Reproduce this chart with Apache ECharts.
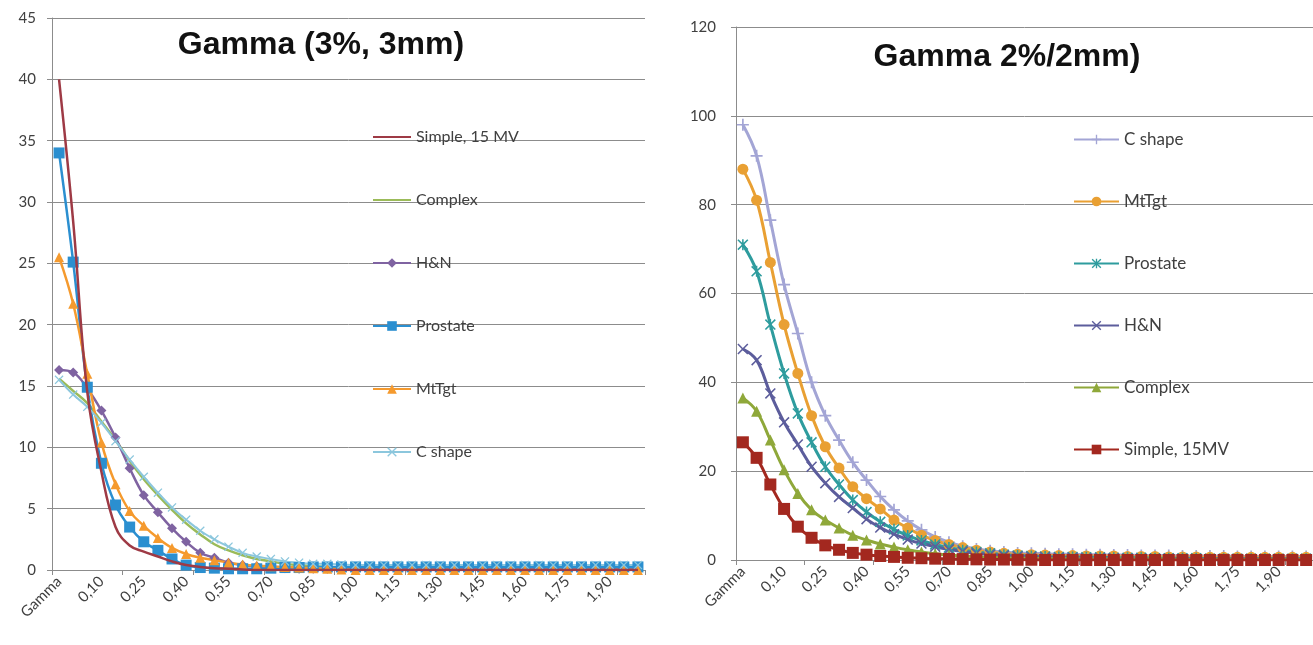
<!DOCTYPE html>
<html>
<head>
<meta charset="utf-8">
<script src="https://cdn.jsdelivr.net/npm/echarts@6/dist/echarts.min.js"></script>
<style>
html,body{margin:0;padding:0;background:#fff;}
#c{width:1313px;height:645px;}
</style>
</head>
<body>
<div id="c"></div>
<script>
// ---------- categories / tick labels ----------
var categories = ["Gamma","0,00","0,05","0,10","0,15","0,20","0,25","0,30","0,35","0,40",
  "0,45","0,50","0,55","0,60","0,65","0,70","0,75","0,80","0,85","0,90",
  "0,95","1,00","1,05","1,10","1,15","1,20","1,25","1,30","1,35","1,40",
  "1,45","1,50","1,55","1,60","1,65","1,70","1,75","1,80","1,85","1,90",
  "1,95","2,00"];

var title1 = "Gamma (3%, 3mm)";
var title2 = "Gamma 2%/2mm)";

// ---------- left chart: Gamma (3%, 3mm) ----------
var L_simple = [40, 28.4, 14.5, 8.0, 3.5, 2.0, 1.5, 1.1, 0.7, 0.4,
  0.25, 0.15, 0.1, 0.05, 0, 0, 0, 0, 0, 0,
  0, 0, 0, 0, 0, 0, 0, 0, 0, 0,
  0, 0, 0, 0, 0, 0, 0, 0, 0, 0,
  0, 0];
var L_complex = [15.6, 14.6, 13.6, 12.1, 10.6, 8.9, 7.4, 6.1, 4.9, 3.8,
  2.9, 2.1, 1.6, 1.2, 0.9, 0.7, 0.5, 0.4, 0.3, 0.25,
  0.2, 0.2, 0.2, 0.2, 0.2, 0.2, 0.2, 0.2, 0.2, 0.2,
  0.2, 0.2, 0.2, 0.2, 0.2, 0.2, 0.2, 0.2, 0.2, 0.2,
  0.2, 0.2];
var L_hn = [16.3, 16.1, 14.8, 13.0, 10.8, 8.3, 6.1, 4.7, 3.4, 2.3,
  1.4, 1.0, 0.6, 0.4, 0.3, 0.2, 0.15, 0.1, 0.1, 0.1,
  0.1, 0.1, 0.1, 0.1, 0.1, 0.1, 0.1, 0.1, 0.1, 0.1,
  0.1, 0.1, 0.1, 0.1, 0.1, 0.1, 0.1, 0.1, 0.1, 0.1,
  0.1, 0.1];
var L_prostate = [34, 25.1, 14.9, 8.7, 5.3, 3.5, 2.3, 1.6, 0.9, 0.4,
  0.2, 0.15, 0.1, 0.1, 0.1, 0.15, 0.2, 0.2, 0.25, 0.25,
  0.25, 0.25, 0.25, 0.25, 0.25, 0.25, 0.25, 0.25, 0.25, 0.25,
  0.25, 0.25, 0.25, 0.25, 0.25, 0.25, 0.25, 0.25, 0.25, 0.25,
  0.25, 0.25];
var L_mttgt = [25.5, 21.7, 16.0, 10.4, 7.0, 4.8, 3.6, 2.6, 1.8, 1.3,
  1.0, 0.8, 0.6, 0.45, 0.35, 0.3, 0.25, 0.2, 0.15, 0.1,
  0.05, 0, 0, 0, 0, 0, 0, 0, 0, 0,
  0, 0, 0, 0, 0, 0, 0, 0, 0, 0,
  0, 0];
var L_cshape = [15.5, 14.3, 13.3, 12.0, 10.5, 9.0, 7.6, 6.3, 5.1, 4.1,
  3.2, 2.5, 1.9, 1.4, 1.1, 0.9, 0.7, 0.6, 0.5, 0.5,
  0.45, 0.4, 0.4, 0.4, 0.4, 0.4, 0.4, 0.4, 0.4, 0.4,
  0.4, 0.4, 0.4, 0.4, 0.4, 0.4, 0.4, 0.4, 0.4, 0.4,
  0.4, 0.4];

// ---------- right chart: Gamma 2%/2mm ----------
var R_cshape = [98, 91, 76.5, 62, 51, 40, 32.5, 27, 22, 18,
  14.3, 11.3, 8.8, 6.8, 5.2, 4.0, 3.1, 2.5, 2.1, 1.8,
  1.6, 1.5, 1.4, 1.3, 1.3, 1.2, 1.2, 1.1, 1.1, 1.0,
  1.0, 1.0, 0.9, 0.9, 0.9, 0.9, 0.8, 0.8, 0.8, 0.8,
  0.8, 0.8];
var R_mttgt = [88, 81, 67, 53, 42, 32.5, 25.5, 20.7, 16.5, 13.8,
  11.5, 9.0, 7.2, 5.6, 4.4, 3.5, 2.8, 2.2, 1.8, 1.5,
  1.3, 1.2, 1.1, 1.0, 1.0, 0.9, 0.9, 0.9, 0.8, 0.8,
  0.8, 0.7, 0.7, 0.7, 0.6, 0.6, 0.6, 0.6, 0.6, 0.6,
  0.6, 0.6];
var R_prostate = [71, 65, 53, 42, 33, 26.5, 21, 17, 13.5, 10.8,
  8.6, 6.9, 5.5, 4.4, 3.5, 2.8, 2.2, 1.8, 1.5, 1.2,
  1.0, 0.9, 0.8, 0.7, 0.7, 0.6, 0.6, 0.5, 0.5, 0.5,
  0.4, 0.4, 0.4, 0.4, 0.3, 0.3, 0.3, 0.3, 0.3, 0.3,
  0.3, 0.3];
var R_hn = [47.5, 45, 37.5, 31, 26, 21, 17.3, 14.2, 11.7, 9.2,
  7.3, 5.8, 4.6, 3.7, 3.0, 2.4, 1.9, 1.5, 1.2, 1.0,
  0.8, 0.7, 0.6, 0.5, 0.5, 0.4, 0.4, 0.4, 0.3, 0.3,
  0.3, 0.3, 0.2, 0.2, 0.2, 0.2, 0.2, 0.2, 0.2, 0.2,
  0.2, 0.2];
var R_complex = [36.5, 33.5, 27, 20.3, 15, 11.3, 9.0, 7.2, 5.6, 4.5,
  3.6, 2.9, 2.3, 1.8, 1.4, 1.1, 0.9, 0.7, 0.6, 0.5,
  0.4, 0.4, 0.3, 0.3, 0.3, 0.2, 0.2, 0.2, 0.2, 0.2,
  0.2, 0.2, 0.1, 0.1, 0.1, 0.1, 0.1, 0.1, 0.1, 0.1,
  0.1, 0.1];
var R_simple = [26.5, 23, 17, 11.5, 7.5, 5.0, 3.3, 2.3, 1.6, 1.2,
  0.9, 0.7, 0.5, 0.4, 0.3, 0.25, 0.2, 0.15, 0.1, 0.1,
  0.05, 0.05, 0, 0, 0, 0, 0, 0, 0, 0,
  0, 0, 0, 0, 0, 0, 0, 0, 0, 0,
  0, 0];

var leftNames = ["Simple, 15 MV", "Complex", "H&N", "Prostate", "MtTgt", "C shape"];
var rightNames = ["C shape\u200B", "MtTgt\u200B", "Prostate\u200B", "H&N\u200B", "Complex\u200B", "Simple, 15MV"];

// ---------- styling ----------
var X_SYM = 'path://M0,1L1,0L5,4L9,0L10,1L6,5L10,9L9,10L5,6L1,10L0,9L4,5Z';
var PLUS_SYM = 'path://M4.3,0H5.7V4.3H10V5.7H5.7V10H4.3V5.7H0V4.3H4.3Z';
var AST_SYM = 'path://M0,1L1,0L5,4L9,0L10,1L6,5L10,9L9,10L5,6L1,10L0,9L4,5Z M4.3,0H5.7V10H4.3Z';

var gridColor = '#8c8c8c';
var labelColor = '#404040';
var font = 'Lato, "Liberation Sans", sans-serif';

function mkSeries(name, data, color, symbol, size, xi, width, z) {
  return {
    name: name, type: 'line', xAxisIndex: xi, yAxisIndex: xi,
    data: data, smooth: 0.4,
    symbol: symbol, symbolSize: size, showSymbol: symbol !== 'none', showAllSymbol: true,
    lineStyle: { color: color, width: width },
    itemStyle: { color: color },
    emphasis: { disabled: true },
    animation: false, z: z || 2
  };
}

function xAxisDef(gi) {
  return {
    type: 'category', gridIndex: gi, data: categories, boundaryGap: true,
    axisLine: { show: true, lineStyle: { color: gridColor, width: 1 } },
    axisTick: { show: true, interval: 4, length: 5, lineStyle: { color: gridColor } },
    axisLabel: { interval: 2, rotate: 45, margin: 9, color: labelColor, fontSize: 15, fontFamily: font },
    splitLine: { show: false }
  };
}
function yAxisDef(gi, max, interval, margin) {
  return {
    type: 'value', gridIndex: gi, min: 0, max: max, interval: interval,
    axisLine: { show: true, lineStyle: { color: gridColor, width: 1 } },
    axisTick: { show: true, length: 5, lineStyle: { color: gridColor } },
    axisLabel: { color: labelColor, fontSize: 15, fontFamily: font, margin: margin },
    splitLine: { show: true, lineStyle: { color: gridColor, width: 1 } }
  };
}

function legendData(names, noMarker) {
  return names.map(function (n, i) {
    return noMarker[i] ? { name: n, itemStyle: { opacity: 0 } } : { name: n };
  });
}

var option = {
  backgroundColor: '#ffffff',
  animation: false,
  grid: [
    { left: 52, top: 18, width: 593, height: 552 },
    { left: 736, top: 27, width: 594, height: 533 }
  ],
  xAxis: [xAxisDef(0), xAxisDef(1)],
  yAxis: [yAxisDef(0, 45, 5, 16), yAxisDef(1, 120, 20, 20)],
  legend: [
    {
      data: legendData(leftNames, [true, true, false, false, false, false]),
      orient: 'vertical', left: 367, top: 124,
      itemWidth: 38, itemHeight: 12, itemGap: 47,
      textStyle: { fontFamily: font, fontSize: 16, color: labelColor },
      selectedMode: false
    },
    {
      data: rightNames, orient: 'vertical', left: 1068, top: 126,
      itemWidth: 45, itemHeight: 12, itemGap: 45,
      textStyle: { fontFamily: font, fontSize: 17, color: labelColor },
      selectedMode: false
    }
  ],
  graphic: [
    { type: 'text', x: 321, y: 45, z: 10,
      style: { text: title1, font: 'bold 32px "Liberation Sans", Arial, sans-serif', fill: '#111', textAlign: 'center', textVerticalAlign: 'middle' } },
    { type: 'text', x: 1007, y: 57, z: 10,
      style: { text: title2, font: 'bold 32px "Liberation Sans", Arial, sans-serif', fill: '#111', textAlign: 'center', textVerticalAlign: 'middle' } }
  ],
  series: [
    mkSeries(leftNames[0], L_simple, '#9e3a45', 'none', 0, 0, 2.5, 3),
    mkSeries(leftNames[1], L_complex, '#9bbb59', 'none', 0, 0, 2.5, 2),
    mkSeries(leftNames[2], L_hn, '#7f63a1', 'diamond', 10, 0, 2.5, 2),
    mkSeries(leftNames[3], L_prostate, '#2b8fd0', 'rect', 11, 0, 2.5, 2),
    mkSeries(leftNames[4], L_mttgt, '#f59a2e', 'triangle', 10, 0, 2.5, 2),
    mkSeries(leftNames[5], L_cshape, '#8cc7dd', X_SYM, 9, 0, 2, 2),

    mkSeries(rightNames[0], R_cshape, '#a3a5d5', PLUS_SYM, 12, 1, 3, 2),
    mkSeries(rightNames[1], R_mttgt, '#e9a033', 'circle', 11, 1, 3, 2),
    mkSeries(rightNames[2], R_prostate, '#2e9c9e', AST_SYM, 11, 1, 3, 2),
    mkSeries(rightNames[3], R_hn, '#5c5d9c', X_SYM, 11, 1, 3, 2),
    mkSeries(rightNames[4], R_complex, '#8fa83a', 'triangle', 11, 1, 3, 2),
    mkSeries(rightNames[5], R_simple, '#a3281f', 'rect', 12, 1, 3, 2)
  ]
};

var chart = echarts.init(document.getElementById('c'), null, { renderer: 'canvas' });
chart.setOption(option);
</script>
</body>
</html>
